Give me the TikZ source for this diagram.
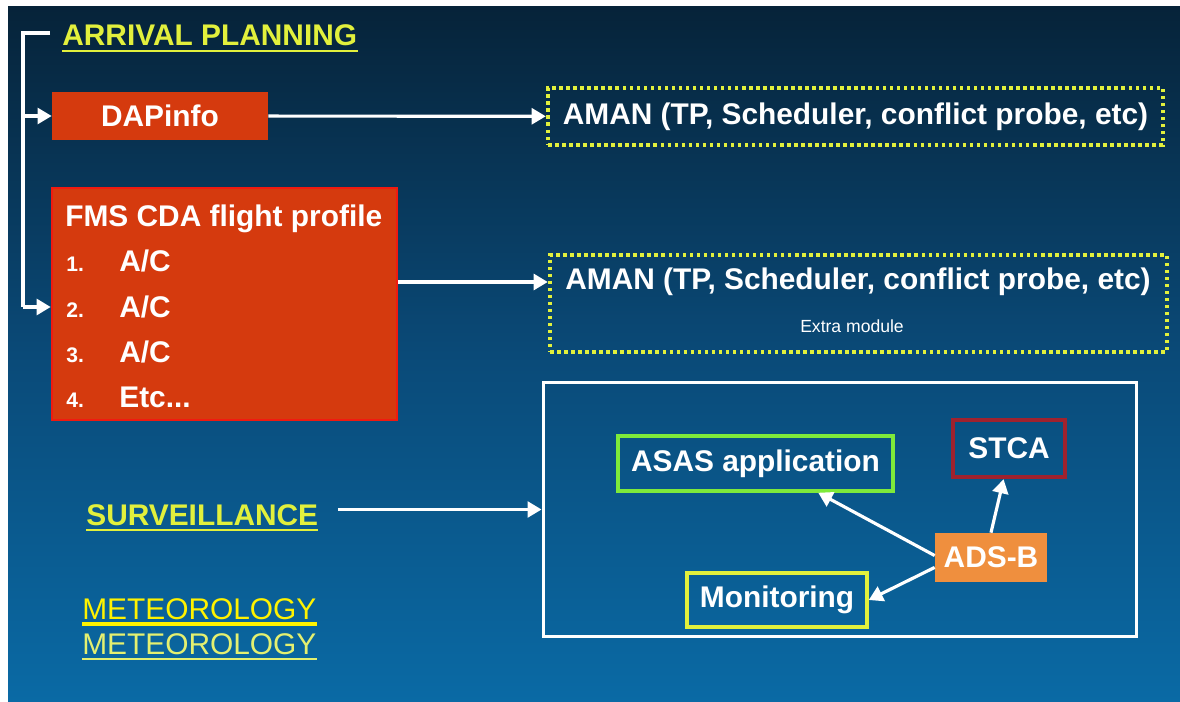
\documentclass[tikz,border=0pt]{standalone}
\usepackage{fontspec}
\setmainfont{Liberation Sans}
\usetikzlibrary{arrows.meta}

\definecolor{slidetop}{HTML}{062339}
\definecolor{slidemid}{HTML}{0A4A78}
\definecolor{slidebot}{HTML}{0A6AA5}
\definecolor{boxred}{HTML}{D53A0E}
\definecolor{boxredline}{HTML}{F01A10}
\definecolor{headyellow}{HTML}{E2F03C}
\definecolor{asasgreen}{HTML}{7EEA3A}
\definecolor{stcared}{HTML}{A0222E}
\definecolor{adsorange}{HTML}{EF8F3E}
\definecolor{meteolight}{HTML}{E4F070}

\begin{document}
\begin{tikzpicture}[x=0.02cm, y=-0.02cm,
    big/.style={font=\bfseries\fontsize{17}{20}\selectfont, text=white},
    redbox/.style={fill=boxred, inner sep=0pt},
    hatchbox/.style={preaction={draw=black, line width=2.6pt},
      draw=headyellow, line width=2.6pt, dash pattern=on 2pt off 2pt, inner sep=0pt},
    wbox/.style={draw=white, line width=1.7pt, inner sep=0pt},
    heading/.style={font=\bfseries\fontsize{17}{20}\selectfont, text=headyellow,
      anchor=base west, inner sep=0pt},
    uline/.style={draw=headyellow, line width=1.6pt},
    wline/.style={draw=white, line width=1.8pt},
    arr/.style={wline, -{Triangle[length=8pt, width=9pt]}}]

  % slide background
  \fill[white] (0,0) rectangle (1180,702);
  \shade[top color=slidetop, bottom color=slidebot, middle color=slidemid]
    (8,7) rectangle (1180,702);

  % arrival planning
  \node[heading] (arr) at (62,46) {ARRIVAL PLANNING};
  \draw[uline] ([yshift=-2.5pt]arr.south west) -- ([yshift=-2.5pt]arr.south east);

  \node[redbox, big, minimum width=4.32cm, minimum height=0.96cm] (dap) at (160,116) {DAPinfo};
  \node[hatchbox, big, minimum width=12.3cm, minimum height=1.14cm] (aman1) at (855.5,116.5)
    {AMAN (TP, Scheduler, conflict probe, etc)};

  \node[redbox, draw=boxredline, line width=1.5pt, minimum width=6.9cm, minimum height=4.64cm]
    (fms) at (224.5,304) {};
  \node[big, anchor=base west, inner sep=0pt] (fmstitle) at (65,227) {FMS CDA flight profile};
  \foreach [count=\i] \t in {A/C, A/C, A/C, Etc{.}{.}{.}} {
    \node[font=\bfseries\fontsize{12}{14}\selectfont, text=white, anchor=base west, inner sep=0pt]
      (num\i) at (66,{272+(\i-1)*45.3}) {\i.};
    \node[big, anchor=base west, inner sep=0pt] (item\i) at (119,{272+(\i-1)*45.3}) {\t};
  }

  \node[hatchbox, minimum width=12.34cm, minimum height=1.94cm] (aman2) at (858.5,303.5) {};
  \node[big, inner sep=0pt] (aman2main) at (858,282) {AMAN (TP, Scheduler, conflict probe, etc)};
  \node[font=\fontsize{10}{12}\selectfont, text=white, inner sep=0pt] (extra) at (852,326) {Extra module};

  % bracket on the left
  \coordinate (brtop) at (50,33);
  \coordinate (brcorner) at (23,33);
  \coordinate (brbot) at (23,307);
  \draw[wline] (brtop) -- (brcorner) -- (brbot);
  \draw[arr] (brcorner |- dap) -- (dap);
  \draw[arr] (brbot) -- (brbot -| fms.west);

  \draw[arr] (dap) -- (aman1);
  \draw[arr] (fms.east |- aman2main) -- (aman2.west |- aman2main);

  % surveillance
  \node[heading] (surv) at (86,525) {SURVEILLANCE};
  \draw[uline] ([yshift=-2.5pt]surv.south west) -- ([yshift=-2.5pt]surv.south east);

  \node[wbox, minimum width=11.88cm, minimum height=5.1cm] (frame) at (840,509.5) {};
  \draw[arr] ([xshift=11pt]surv.east |- frame) -- (frame.west);

  \node[big, draw=asasgreen, line width=2pt, minimum width=5.5cm, minimum height=1.1cm] (asas) at (755.5,463.5) {ASAS application};
  \node[big, draw=stcared, line width=2.5pt, minimum width=2.24cm, minimum height=1.14cm] (stca) at (1009,448.5) {STCA};
  \node[big, fill=adsorange, minimum width=2.24cm, minimum height=0.98cm] (ads) at (991,557.5) {ADS-B};
  \node[big, draw=headyellow, line width=2pt, minimum width=3.6cm, minimum height=1.08cm] (mon) at (777,600) {Monitoring};

  \draw[arr] (ads.178) -- (asas.-25);
  \draw[arr] (ads.190) -- (mon.east);
  \draw[arr] (ads.north) -- (stca.-100);

  % meteorology
  \node[heading, font=\fontsize{17}{20}\selectfont, text=yellow] (meteo) at (82,619) {METEOROLOGY};
  \draw[draw=yellow, line width=1.8pt] ([yshift=-2.5pt]meteo.south west) -- ([yshift=-2.5pt]meteo.south east);
  \node[heading, font=\fontsize{17}{20}\selectfont, text=meteolight] (meteob) at (82,654) {METEOROLOGY};
  \draw[draw=meteolight, line width=1.6pt] ([yshift=-2.5pt]meteob.south west) -- ([yshift=-2.5pt]meteob.south east);
\end{tikzpicture}
\end{document}
